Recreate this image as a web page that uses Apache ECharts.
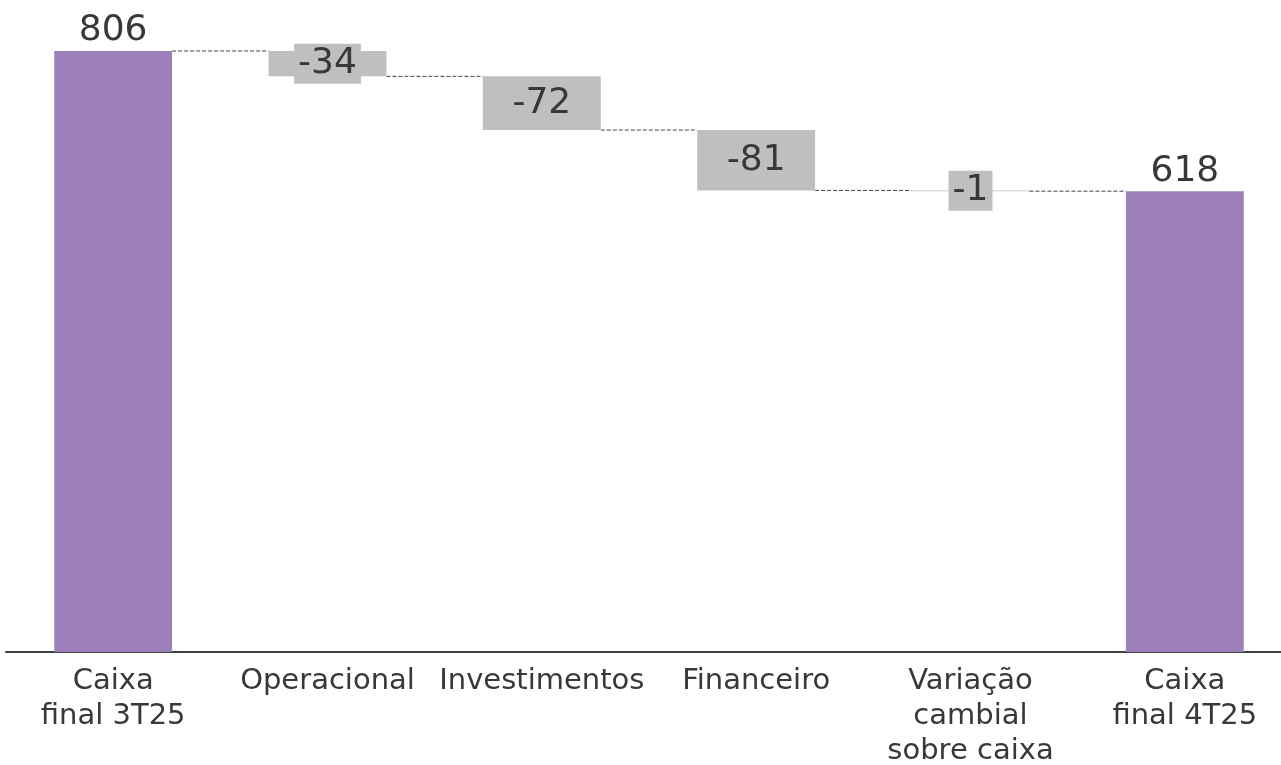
<!DOCTYPE html>
<html>
<head>
<meta charset="utf-8">
<script src="https://cdn.jsdelivr.net/npm/echarts@6/dist/echarts.min.js"></script>
<style>
  html, body { margin: 0; padding: 0; background: #ffffff; overflow: hidden; }
  #chart { position: fixed; left: 0; top: 0; width: 1281px; height: 765px; }
</style>
</head>
<body>
<div id="chart"></div>
<script>
// Cash bridge: opening balance, movements, closing balance
const categories = ['Caixa\nfinal 3T25', 'Operacional', 'Investimentos', 'Financeiro', 'Variação\ncambial\nsobre caixa', 'Caixa\nfinal 4T25'];
const values = [806, -34, -72, -81, -1, 618];
const isTotal = [true, false, false, false, false, true];

const FONT = 'DejaVu Sans';
const PURPLE = '#9d80ba';
const GREY = '#bfbfbf';
const TEXT = '#383838';

// Build invisible base + visible bar segments from running totals
const base = [];
const bars = [];
const levels = []; // running total after each category, for connectors
let running = 0;
values.forEach((v, i) => {
  if (isTotal[i]) {
    base.push(0);
    bars.push({
      value: v,
      itemStyle: { color: PURPLE },
      label: { show: true, position: 'top', distance: 2, formatter: String(v), color: TEXT, fontSize: 36, fontFamily: FONT }
    });
    running = v;
  } else {
    running += v;
    base.push(running);
    bars.push({
      value: -v,
      itemStyle: { color: GREY },
      label: {
        show: true, position: 'inside', formatter: String(v), color: TEXT, fontSize: 36, fontFamily: FONT,
        lineHeight: 36, backgroundColor: GREY, padding: [2, 4]
      }
    });
  }
  levels.push(running);
});

const connectors = levels.slice(0, -1).map((lv, i) => [i, lv]);
const BAR_RATIO = 0.55;

const chart = echarts.init(document.getElementById('chart'));
chart.setOption({
  animation: false,
  grid: { left: 6, top: 51, width: 1286, height: 601, containLabel: false, outerBoundsMode: 'none' },
  xAxis: {
    type: 'category',
    data: categories,
    axisLine: { show: true, lineStyle: { color: '#404040', width: 2 } },
    axisTick: { show: false },
    axisLabel: { interval: 0, color: TEXT, fontSize: 29, fontFamily: FONT, lineHeight: 35, margin: 12 }
  },
  yAxis: {
    type: 'value', min: 0, max: 806,
    show: false, splitLine: { show: false }
  },
  series: [
    {
      type: 'bar', stack: 'w', data: base, barWidth: (BAR_RATIO * 100) + '%',
      itemStyle: { color: 'transparent' }, silent: true
    },
    {
      type: 'bar', stack: 'w', data: bars, barWidth: (BAR_RATIO * 100) + '%', z: 3
    },
    {
      type: 'custom',
      data: connectors,
      z: 1,
      renderItem: function (params, api) {
        const i = api.value(0);
        const lv = api.value(1);
        const p0 = api.coord([i, lv]);
        const p1 = api.coord([i + 1, lv]);
        const half = api.size([1, 0])[0] * BAR_RATIO / 2;
        return {
          type: 'line',
          shape: { x1: p0[0] + half, y1: p0[1], x2: p1[0] - half, y2: p1[1] },
          style: { stroke: '#404040', lineWidth: 1, lineDash: [4, 2] }
        };
      }
    }
  ]
});
</script>
</body>
</html>
